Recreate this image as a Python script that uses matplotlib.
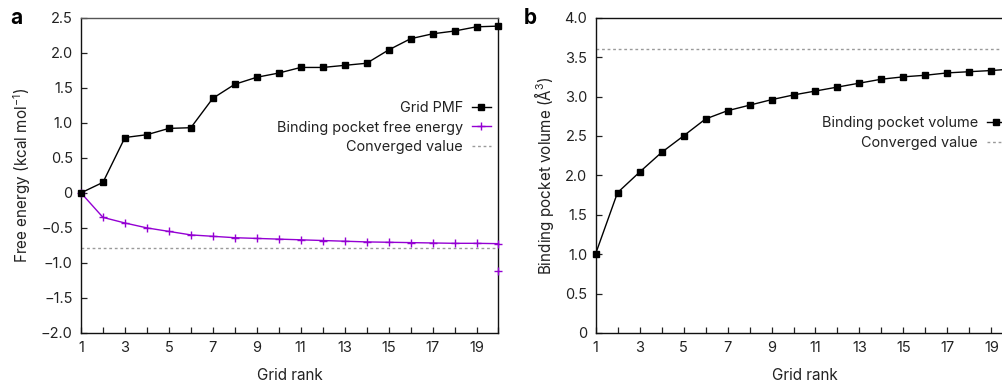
import matplotlib
matplotlib.use("Agg")
import matplotlib.pyplot as plt
import numpy as np

plt.rcParams['font.family'] = ['Inter', 'DejaVu Sans']
plt.rcParams['mathtext.default'] = 'regular'

rank = list(range(1, 21))
grid_pmf = [0.0, 0.15, 0.79, 0.83, 0.92, 0.93, 1.35, 1.55, 1.65, 1.71,
            1.79, 1.79, 1.82, 1.85, 2.04, 2.20, 2.27, 2.31, 2.37, 2.38]
pocket_fe = [0.0, -0.35, -0.43, -0.50, -0.55, -0.60, -0.62, -0.64, -0.65, -0.66,
             -0.67, -0.68, -0.69, -0.70, -0.705, -0.71, -0.715, -0.72, -0.72, -0.725]
pocket_fe_extra_x = [20]
pocket_fe_extra_y = [-1.12]
fe_converged = -0.78

pocket_vol = [1.0, 1.78, 2.04, 2.29, 2.50, 2.715, 2.82, 2.89, 2.96, 3.02,
              3.07, 3.12, 3.17, 3.22, 3.25, 3.27, 3.30, 3.315, 3.33, 3.35]
vol_converged = 3.60

xtick_labels = [str(i) for i in range(1, 21, 2)]

W, H = 1003, 384
fig = plt.figure(figsize=(W / 100, H / 100), dpi=100)

FS = 10.5
LFS = 10.4
purple = '#9400d3'
grey = '#9a9a9a'

def style(ax):
    ax.tick_params(direction='in', length=4.5, width=0.9, labelsize=FS, pad=6,
                   colors='#222222')
    ax.set_xticks(range(1, 21))
    ax.set_xticklabels([str(i) if i % 2 == 1 else '' for i in range(1, 21)])
    for s in ax.spines.values():
        s.set_linewidth(1.0)
        s.set_color('#111111')
    ax.set_xlabel('Grid rank', fontsize=FS + 0.5, labelpad=9, color='#222222')

# Panel a
ax1 = fig.add_axes([81 / W, 51 / H, (498.5 - 81) / W, (333 - 17.7) / H])
ax1.plot(rank, grid_pmf, color='black', lw=1.0, marker='s', ms=5,
         label='Grid PMF', clip_on=False, zorder=4)
ax1.plot(rank, pocket_fe, color=purple, lw=1.0, marker='+', ms=6, mew=1.0,
         label='Binding pocket free energy', clip_on=False, zorder=3)
ax1.plot(pocket_fe_extra_x, pocket_fe_extra_y, color=purple, lw=0, marker='+',
         ms=6, mew=1.0, clip_on=False, zorder=3)
ax1.axhline(fe_converged, color=grey, lw=1.0, dashes=(2, 2),
            label='Converged value', zorder=2)
ax1.set_xlim(1, 20)
ax1.set_ylim(-2.0, 2.5)
ax1.set_yticks(np.arange(-2.0, 2.51, 0.5))
ax1.set_yticklabels(['−2.0', '−1.5', '−1.0', '−0.5', '0', '0.5', '1.0', '1.5', '2.0', '2.5'])
style(ax1)
ax1.spines['top'].set_color('#555555')
ax1.set_ylabel('Free energy (kcal mol$^{-1}$)', fontsize=FS + 0.5, labelpad=6,
               color='#222222')
leg1 = ax1.legend(loc='upper right', bbox_to_anchor=(0.995, 0.755), frameon=False,
                  markerfirst=False, fontsize=LFS, handlelength=1.3,
                  handletextpad=0.6, labelspacing=0.4, borderaxespad=0)
for t in leg1.get_texts():
    t.set_ha('right')
    t.set_color('#222222')

# Panel b
ax2 = fig.add_axes([595.5 / W, 51 / H, (1013.5 - 595.5) / W, (333 - 17.7) / H])
ax2.plot(rank, pocket_vol, color='black', lw=1.0, marker='s', ms=5,
         label='Binding pocket volume', clip_on=False, zorder=4)
ax2.axhline(vol_converged, color=grey, lw=1.0, dashes=(2, 2),
            label='Converged value', zorder=2)
ax2.set_xlim(1, 20)
ax2.set_ylim(0, 4.0)
ax2.set_yticks(np.arange(0, 4.01, 0.5))
ax2.set_yticklabels(['0', '0.5', '1.0', '1.5', '2.0', '2.5', '3.0', '3.5', '4.0'])
style(ax2)
ax2.set_ylabel('Binding pocket volume (Å$^{3}$)', fontsize=FS + 0.5, labelpad=6,
               color='#222222')
leg2 = ax2.legend(loc='upper right', bbox_to_anchor=(0.995, 0.705), frameon=False,
                  markerfirst=False, fontsize=LFS, handlelength=1.3,
                  handletextpad=0.6, labelspacing=0.4, borderaxespad=0)
for t in leg2.get_texts():
    t.set_color('#222222')

fig.text(10 / W, 1 - 24 / H, 'a', fontsize=15, fontweight='bold')
fig.text(524 / W, 1 - 24 / H, 'b', fontsize=15, fontweight='bold')

fig.savefig('out.png', dpi=100)
